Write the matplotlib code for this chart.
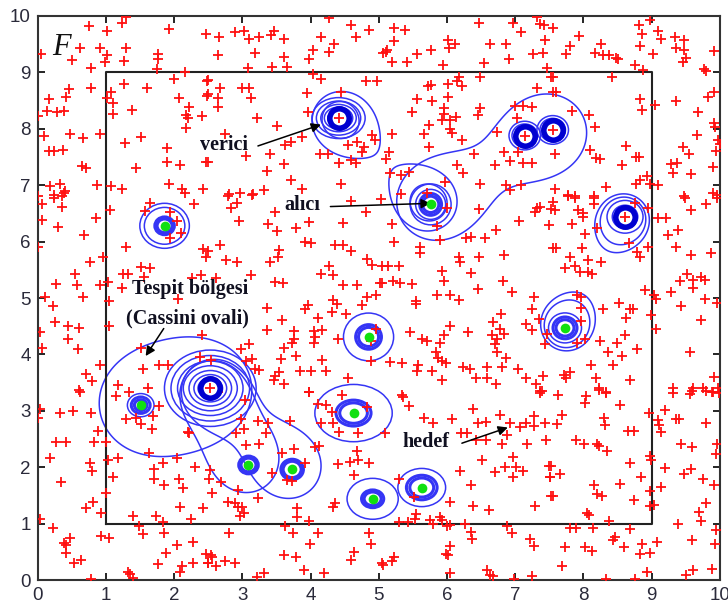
import matplotlib
matplotlib.use('Agg')
import matplotlib.pyplot as plt
from matplotlib.patches import Ellipse
import numpy as np

# red "+" sensor nodes (x, y)
plus_nw = [(1.29,9.99),(0.75,9.82),(1.24,9.87),(1.01,9.73),(1.93,9.77),(2.46,9.68),(0.05,9.33),(0.62,9.43),
    (0.51,9.22),(0.91,9.43),(1.01,9.31),(0.99,9.18),(1.29,9.43),(1.27,9.21),(1.76,9.33),(1.76,9.24),(0.78,9.07),
    (1.75,9.06),(2.16,9.01),(2.0,8.88),(2.48,8.85),(0.78,8.73),(0.46,8.71),(1.27,8.79),(1.08,8.66),(1.6,8.73),
    (0.16,8.53),(0.41,8.57),(1.02,8.54),(0.13,8.32),(0.28,8.3),(0.38,8.32),(1.1,8.46),(1.11,8.27),(0.0,8.22),
    (1.38,8.33),(2.07,8.54),(2.22,8.38),(2.18,8.24),(2.21,8.19),(2.41,8.22),(2.48,8.59),(2.17,8.02),(0.09,7.88),
    (0.48,7.9),(0.66,7.83),(0.91,7.91),(1.28,7.74),(1.52,7.86),(1.9,7.66),(0.17,7.61),(0.24,7.61),(0.37,7.62),
    (0.65,7.34),(0.71,7.3),(1.44,7.3),(1.9,7.41),(2.09,7.36),(2.47,7.41),(0.18,6.99),(0.32,7.03),(0.24,6.83),
    (0.38,6.87),(0.4,6.9),(0.87,7.0),(1.08,6.99),(1.24,6.93),(1.93,7.03),(2.11,6.94),(2.16,6.87),(2.43,6.94),
    (0.01,6.8)]
plus_n = [(2.66,9.62),(2.89,9.71),(3.03,9.74),(3.1,9.59),(3.24,9.62),(3.42,9.66),(3.46,9.74),(3.61,9.59),
    (4.15,9.62),(4.27,9.96),(4.6,9.84),(4.66,9.62),(4.86,9.76),(4.34,9.5),(4.27,9.37),(4.04,9.4),(3.98,9.23),
    (2.65,9.3),(3.19,9.35),(3.61,9.27),(5.06,9.35),(3.09,9.07),(3.44,9.1),(3.65,9.1),(4.04,8.97),(4.15,8.89),
    (2.5,8.87),(4.81,8.84),(4.98,8.85),(2.67,8.73),(3.0,8.73),(3.1,8.73),(2.49,8.61),(2.64,8.55),(3.13,8.54),
    (3.95,8.63),(4.45,8.65),(2.64,8.38),(3.21,8.2),(3.96,8.3),(3.51,8.05),(2.75,7.91),(3.88,7.85),
    (3.62,7.71),(3.72,7.76),(4.55,7.71),(4.68,7.77),(4.9,7.89),(4.95,7.81),(4.79,7.68),(4.75,7.59),(4.14,7.55),
    (4.26,7.56),(4.42,7.4),(4.59,7.45),(4.66,7.4),(3.05,7.52),(3.41,7.56),(2.49,7.41),(3.61,7.37),(3.36,7.26),
    (3.72,7.09),(4.45,7.03),(2.8,6.84),(2.96,6.87),(3.15,6.84),(3.32,6.92),(3.88,6.94),(5.03,6.76)]
plus_ne = [(7.32,9.99),(5.23,9.78),(5.39,9.76),(6.47,9.87),(6.97,9.87),(7.36,9.86),(7.42,9.84),(7.09,9.71),
    (5.23,9.55),(6.02,9.57),(6.03,9.43),(6.12,9.5),(6.63,9.5),(6.86,9.5),(7.43,9.57),(5.1,9.37),(5.12,9.39),
    (5.56,9.33),(5.76,9.39),(7.41,9.35),(7.26,9.33),(5.19,9.18),(5.42,9.18),(5.94,9.13),(6.54,9.16),(6.91,9.24),
    (7.46,9.07),(6.17,8.91),(6.14,8.85),(6.48,8.92),(7.52,8.91),(5.72,8.76),(5.76,8.78),(6.02,8.79),(6.22,8.76),
    (7.32,8.73),(7.56,8.66),(5.56,8.52),(5.78,8.5),(6.02,8.57),(5.49,8.3),(5.95,8.36),(5.95,8.27),(6.13,8.21),
    (5.93,8.15),(6.05,8.15),(6.49,8.36),(6.45,8.24),(6.99,8.41),(7.12,8.41),(7.25,8.38),(7.02,8.19),(5.73,8.07),
    (6.05,7.99),(6.07,7.93),(5.2,7.91),(5.66,7.91),(6.74,7.95),(6.22,7.8),(5.73,7.67),(5.15,7.58),(5.1,7.46),
    (6.4,7.55),(6.84,7.58),(6.93,7.43),(7.04,7.59),(7.12,7.39),(7.24,7.39),(6.7,7.36),(6.15,7.36),(6.23,7.22),
    (5.17,7.21),(5.32,7.18),(5.44,7.23),(5.97,7.06),(6.49,7.03),(6.87,7.0),(6.92,6.91),(7.09,7.0),(5.32,6.84),
    (5.7,6.87)]
plus_far_ne = [(8.98,9.93),(7.55,9.78),(7.94,9.65),(8.81,9.84),(8.86,9.68),(9.09,9.74),(9.14,9.59),(9.34,9.63),
    (9.48,9.57),(7.81,9.46),(7.74,9.33),(8.26,9.5),(8.17,9.35),(8.28,9.3),(8.37,9.3),(8.48,9.25),(8.51,9.24),
    (8.83,9.47),(9.02,9.33),(9.36,9.43),(9.48,9.4),(9.91,9.38),(9.51,9.25),(9.46,9.18),(8.76,9.13),(8.88,9.05),
    (9.77,9.06),(9.79,9.03),(7.55,8.91),(8.42,8.92),(7.6,8.66),(8.83,8.53),(8.86,8.33),(9.05,8.43),(9.36,8.49),
    (9.92,8.66),(9.82,8.57),(9.68,8.29),(7.83,8.31),(8.08,8.24),(8.17,8.03),(9.91,8.1),(9.93,8.04),(9.66,7.89),
    (9.98,7.8),(10.0,7.73),(9.95,7.61),(9.46,7.67),(9.55,7.55),(7.58,7.55),(8.1,7.63),(8.19,7.49),(8.25,7.46),
    (8.62,7.7),(8.77,7.5),(8.81,7.5),(8.56,7.36),(9.29,7.37),(9.37,7.4),(9.32,7.21),(9.58,7.2),(9.9,7.33),
    (8.93,7.17),(8.83,7.09),(8.77,7.03),(8.98,7.03),(9.1,7.0),(8.33,6.97),(7.58,6.94),(7.78,6.83),(7.88,6.8),
    (8.15,6.8),(9.48,6.8),(9.9,6.87),(9.96,6.83)]
plus_w = [(0.07,6.67),(0.24,6.77),(0.35,6.8),(0.36,6.61),(0.07,6.38),(0.3,6.26),(0.86,6.41),(1.06,6.56),
    (0.68,6.11),(0.0,5.9),(0.95,5.73),(0.76,5.63),(1.29,5.91),(1.65,6.68),(1.57,6.54),(1.94,6.52),(2.04,6.37),
    (2.1,6.16),(1.94,6.07),(2.29,6.66),(2.43,5.87),(2.47,5.72),(0.54,5.43),(0.27,5.24),(0.57,5.23),(0.91,5.23),
    (1.03,5.28),(1.25,5.42),(1.33,5.43),(1.51,5.55),(1.65,5.54),(1.56,5.38),(1.23,5.18),(0.11,5.01),(0.66,5.02),
    (1.05,4.95),(0.22,4.85),(2.06,4.98),(2.26,5.35),(2.4,5.4),(0.26,4.57),(0.45,4.51),(0.61,4.47),(1.04,4.51),
    (0.04,4.39),(0.45,4.27),(2.41,4.34),(0.06,4.12),(0.59,4.1),(1.52,4.11),(1.78,3.82),(1.91,3.82),(0.92,3.82),
    (1.54,3.74),(0.71,3.65),(0.79,3.52),(0.61,3.37),(1.17,3.45),(1.61,3.4),(1.34,3.34),(2.38,3.96)]
plus_c = [(2.79,6.8),(2.92,6.68),(2.84,6.59),(3.14,6.83),(3.48,6.53),(2.95,6.36),(3.37,6.32),(3.51,6.19),
    (3.78,6.25),(3.97,6.34),(4.6,6.72),(4.82,6.53),(4.47,6.33),(2.67,5.94),(2.49,5.83),(2.76,5.67),(2.92,5.64),
    (3.54,5.85),(3.52,5.73),(3.41,5.63),(3.92,5.99),(4.0,5.97),(4.36,5.94),(4.47,5.94),(4.6,5.83),(4.83,5.7),
    (4.9,5.59),(5.05,5.56),(4.27,5.57),(4.15,5.42),(4.33,5.4),(3.12,5.4),(2.62,5.36),(3.48,5.28),(3.59,5.26),
    (4.47,5.23),(4.68,5.23),(5.02,5.26),(4.83,5.02),(4.96,5.05),(4.33,4.96),(4.39,4.89),(3.96,4.87),(3.92,4.81),
    (3.36,4.82),(4.32,4.76),(4.75,4.88),(4.52,4.71),(4.11,4.65),(3.58,4.61),(3.36,4.43),(3.76,4.41),(4.05,4.41),
    (4.17,4.43),(4.07,4.31),(3.75,4.28),(3.73,4.2),(4.05,4.2),(2.98,4.1),(3.1,4.18),(3.61,4.12),(3.78,3.98),
    (3.56,3.92),(4.17,3.9),(3.14,3.92),(3.06,3.89),(3.19,3.75),(3.25,3.72),(3.54,3.69),(3.48,3.61),(3.46,3.55),
    (3.61,3.47),(3.85,3.71),(4.0,3.71),(4.22,3.71),(4.55,3.58),(4.88,3.89),(4.96,4.45),(4.89,4.24),(4.4,4.28),
    (3.98,3.34),(2.54,3.9),(2.65,3.34)]
plus_e = [(6.0,6.6),(6.47,6.58),(7.32,6.59),(7.36,6.62),(7.29,6.52),(7.52,6.58),(7.06,6.37),(7.49,6.29),
    (5.19,6.31),(5.86,6.28),(5.22,6.0),(5.9,6.03),(6.28,6.07),(6.35,6.08),(6.56,6.06),(6.72,6.21),(5.6,5.91),
    (5.6,5.8),(6.17,5.73),(6.19,5.64),(6.47,5.73),(6.84,5.77),(7.56,5.89),(5.14,5.56),(5.3,5.56),(5.92,5.48),
    (6.35,5.45),(5.04,5.26),(5.21,5.31),(5.31,5.26),(5.49,5.25),(5.96,5.31),(6.82,5.3),(6.45,5.16),(6.95,5.11),
    (5.85,5.06),(6.04,5.06),(6.17,4.96),(5.55,4.95),(5.55,4.89),(7.27,5.01),(7.25,4.8),(6.79,4.71),(6.68,4.57),
    (7.16,4.54),(7.25,4.44),(7.35,4.62),(7.46,4.37),(7.44,4.18),(6.05,4.51),(6.31,4.4),(6.77,4.45),(6.83,4.37),
    (6.66,4.34),(6.74,4.28),(5.46,4.4),(5.95,4.34),(5.64,4.27),(5.7,4.23),(5.9,4.21),(6.7,4.18),(6.73,4.05),
    (5.84,4.05),(5.87,3.94),(5.93,3.88),(6.86,3.94),(5.17,3.87),(5.34,3.84),(5.58,3.81),(5.56,3.71),(5.78,3.71),
    (5.99,3.84),(6.23,3.78),(6.34,3.74),(6.58,3.78),(6.8,3.78),(7.04,3.75),(5.92,3.55),(6.43,3.58),(6.58,3.58),
    (6.72,3.48),(7.16,3.58),(7.41,3.62),(7.3,3.48),(7.37,3.35),(5.34,3.28)]
plus_far_e = [(7.56,6.71),(7.78,6.8),(7.88,6.77),(8.16,6.78),(8.15,6.66),(7.92,6.56),(8.0,6.5),(8.0,6.44),
    (7.58,6.56),(7.83,6.31),(8.03,6.13),(8.2,6.24),(8.64,6.44),(8.76,6.69),(8.95,6.59),(9.1,6.41),(9.21,6.41),
    (9.49,6.77),(9.96,6.77),(9.8,6.66),(9.57,6.56),(9.38,6.21),(9.24,6.11),(9.36,5.91),(9.57,5.77),(9.87,5.8),
    (8.67,5.97),(8.94,5.91),(8.79,5.81),(8.83,5.72),(7.6,5.89),(7.98,5.89),(7.8,5.72),(8.06,5.67),(8.26,5.64),
    (7.73,5.54),(7.87,5.57),(7.95,5.46),(8.06,5.47),(8.12,5.43),(9.52,5.42),(9.41,5.3),(9.61,5.32),(9.72,5.38),
    (9.78,5.32),(9.61,5.17),(9.29,5.11),(8.9,5.14),(9.03,5.06),(9.07,4.99),(7.91,5.05),(7.96,5.01),(7.97,4.83),
    (8.52,4.92),(9.78,4.98),(9.96,4.92),(9.43,4.86),(8.29,4.8),(8.68,4.8),(8.72,4.81),(8.63,4.64),(7.96,4.59),
    (8.99,4.7),(9.73,4.61),(9.07,4.45),(8.03,4.28),(7.9,4.2),(8.25,4.23),(8.49,4.21),(8.61,4.34),(8.79,4.1),
    (8.36,4.05),(8.56,3.98),(8.44,3.81),(8.11,3.81),(9.56,4.04),(7.71,3.63),(7.81,3.68),(7.75,3.59),(8.18,3.58),
    (8.68,3.54),(8.23,3.41),(8.33,3.34),(9.91,3.6),(9.32,3.41),(9.6,3.41),(9.76,3.41),(9.88,3.34),(9.98,3.41),
    (7.63,3.28)]
plus_sw = [(0.62,3.34),(1.15,3.27),(0.04,3.04),(0.01,2.88),(0.32,2.97),(0.52,3.0),(0.78,2.97),(1.29,2.85),
    (1.44,2.88),(1.51,2.77),(1.69,2.9),(1.68,2.67),(1.78,3.09),(0.88,2.65),(0.27,2.45),(0.42,2.45),(0.83,2.45),
    (1.0,2.45),(2.2,2.63),(2.22,2.6),(1.63,2.25),(0.18,2.16),(0.77,2.08),(0.8,1.93),(1.03,2.13),(1.17,2.16),
    (1.83,2.08),(2.04,2.16),(2.31,2.01),(1.7,1.96),(1.7,1.8),(1.1,1.82),(0.34,1.74),(1.85,1.68),(2.07,1.8),
    (2.13,1.63),(1.0,1.55),(0.81,1.39),(0.71,1.27),(2.09,1.3),(2.43,1.27),(0.93,1.18),(0.04,1.08),(1.39,1.13),
    (1.73,1.13),(1.84,1.03),(2.25,1.08),(0.22,0.92),(1.49,0.96),(1.54,0.82),(1.85,0.83),(0.93,0.78),(1.04,0.75),
    (0.47,0.74),(0.39,0.65),(0.41,0.62),(0.42,0.48),(0.53,0.31),(0.64,0.35),(2.04,0.62),(2.27,0.68),(1.88,0.48),
    (1.77,0.28),(2.11,0.25),(2.27,0.31),(1.33,0.15),(1.36,0.11),(1.4,0.03),(2.08,0.15),(0.78,0.01),(2.47,0.47),
    (2.5,0.3)]
plus_s = [(3.98,3.34),(4.11,3.12),(4.23,3.1),(4.46,3.28),(4.31,2.98),(4.33,2.78),(4.15,2.78),(4.41,2.63),
    (4.83,3.07),(4.7,2.61),(3.04,3.2),(2.98,2.85),(3.23,2.82),(3.38,2.78),(3.7,2.82),(3.03,2.67),(2.91,2.6),
    (3.34,2.6),(3.06,2.39),(3.24,2.41),(3.58,2.25),(3.76,2.32),(4.06,2.35),(4.12,2.38),(3.92,2.08),(4.4,2.06),
    (4.58,2.1),(4.68,2.28),(4.7,2.13),(4.86,2.07),(4.63,1.86),(3.43,1.89),(3.66,1.78),(3.73,1.76),(2.53,1.95),
    (2.51,1.8),(2.68,1.73),(2.93,1.6),(3.23,1.45),(2.79,1.39),(2.89,1.36),(2.99,1.3),(2.93,1.3),(3.03,1.19),
    (2.96,1.13),(2.55,1.55),(3.8,1.27),(3.8,1.12),(3.98,1.05),(4.36,1.37),(4.33,1.3),(3.63,0.96),(3.74,0.83),
    (4.11,0.83),(3.99,0.64),(2.81,0.84),(3.61,0.44),(3.78,0.41),(3.9,0.18),(4.19,0.13),(2.54,0.44),(2.56,0.4),
    (2.5,0.3),(2.62,0.24),(2.74,0.33),(2.89,0.3),(3.22,0.06),(3.32,0.12),(4.85,0.83),(4.89,0.64),(4.63,0.5),
    (4.6,0.35),(5.04,0.3)]
plus_se = [(5.35,3.24),(5.44,3.09),(5.66,2.87),(5.8,2.79),(6.07,2.85),(5.09,2.61),(6.21,2.6),(6.29,2.6),
    (6.38,3.04),(6.46,2.79),(6.57,2.81),(6.43,2.49),(6.57,2.48),(6.77,2.93),(6.93,2.79),(7.07,2.72),(7.16,2.79),
    (7.28,2.91),(7.28,2.73),(7.43,2.79),(7.36,3.32),(7.39,3.35),(6.88,2.57),(6.8,2.41),(7.17,2.41),(7.45,2.48),
    (6.51,2.13),(6.97,2.19),(6.85,2.01),(7.01,2.0),(7.12,1.94),(6.71,1.92),(6.97,1.82),(7.5,2.02),(7.51,1.82),
    (6.19,1.94),(6.35,1.68),(6.38,1.31),(6.61,1.24),(6.05,1.39),(7.53,1.49),(7.29,1.32),(5.29,1.8),(5.51,1.48),
    (5.55,1.17),(5.53,1.09),(5.29,1.02),(5.43,1.02),(5.75,1.06),(5.79,1.0),(5.9,1.11),(5.93,1.06),(6.0,0.96),
    (6.05,0.98),(6.27,0.99),(6.35,0.86),(6.37,0.72),(6.88,0.96),(6.95,0.84),(7.22,0.72),(7.28,0.6),(6.05,0.6),
    (5.98,0.47),(6.02,0.44),(5.23,0.4),(5.19,0.33),(5.06,0.27),(6.05,0.12),(6.58,0.18),(6.63,0.09),(6.68,0.08),
    (6.98,0.01),(7.25,0.08)]
plus_far_se = [(8.23,3.37),(8.04,3.26),(8.33,3.31),(8.03,3.13),(8.54,3.1),(8.96,2.97),(7.68,2.93),(7.62,2.76),
    (8.3,2.88),(8.32,2.74),(8.65,2.65),(8.74,2.65),(9.09,2.84),(9.11,2.74),(9.14,2.62),(9.2,3.01),(9.32,3.31),
    (9.56,3.3),(9.59,3.36),(9.8,3.36),(9.9,3.34),(9.99,3.32),(9.35,2.85),(9.4,2.86),(9.8,2.79),(7.89,2.48),
    (8.01,2.41),(8.2,2.41),(8.23,2.38),(8.35,2.28),(9.43,2.41),(9.59,2.35),(9.96,2.42),(9.95,2.23),(8.97,2.2),
    (8.99,2.13),(8.69,2.08),(9.2,1.99),(9.47,1.88),(9.57,1.96),(9.75,1.8),(9.91,1.68),(7.52,2.02),(7.51,1.82),
    (7.65,1.88),(8.85,1.82),(8.54,1.71),(8.15,1.68),(8.2,1.52),(8.27,1.49),(7.55,1.49),(8.97,1.58),(9.14,1.65),
    (8.74,1.42),(8.97,1.31),(9.03,1.33),(9.8,1.36),(9.7,1.21),(9.72,1.05),(8.05,1.18),(8.08,1.15),(8.38,1.05),
    (9.39,0.99),(9.94,0.89),(9.93,0.64),(7.81,0.92),(7.89,0.93),(8.14,0.92),(8.69,0.9),(8.47,0.77),(8.43,0.71),
    (7.73,0.59),(8.02,0.59),(8.13,0.52),(8.59,0.58),(8.86,0.64),(8.83,0.46),(8.97,0.48),(9.08,0.68),(9.59,0.71),
    (7.68,0.25),(8.93,0.15),(9.51,0.09),(9.61,0.18),(9.88,0.19),(8.33,0.01),(8.75,0.01)]

# transmitters (dark blue centres) and receivers (green)
tx_x = [4.41, 7.14, 7.55, 8.61, 2.53]
tx_y = [8.19, 7.88, 7.98, 6.44, 3.40]
rx_x = [1.86, 1.51, 4.85, 4.63, 3.09, 3.73, 4.91, 5.63, 7.73, 5.76]
rx_y = [6.28, 3.10, 4.31, 2.96, 2.04, 1.96, 1.44, 1.64, 4.47, 6.66]
# rings drawn round each receiver (radius in x units) and their width/height ratio
rx_rings = [[0.1, 0.13, 0.27, 0.33], [0.08, 0.12, 0.17], [0.14, 0.18, 0.35], [0.15, 0.19, 0.42],
            [0.1, 0.13], [0.12, 0.15], [0.1, 0.13, 0.3], [0.14, 0.18, 0.28], [0.12, 0.16, 0.22],
            [0.12, 0.16, 0.22, 0.3]]
rx_aspect = [1.1, 1.15, 1.05, 1.35, 1.1, 1.1, 1.25, 1.25, 1.1, 1.0]
tx_rings = [[0.08, 0.11, 0.16, 0.2, 0.25, 0.3], [0.06, 0.09, 0.13, 0.17, 0.21], [0.06, 0.09, 0.13, 0.17, 0.21],
            [0.06, 0.09, 0.13, 0.17, 0.24], [0.08, 0.11, 0.15, 0.2, 0.26, 0.33, 0.4, 0.48, 0.56]]
tx_aspect = [1.3, 1.1, 1.1, 1.1, 1.2]
# Cassini ovals: (tx index, rx index or None for tx pair, b values)
ovals = [(0, 9, [0.7, 0.91]), (2, 9, [1.12]), (3, 8, [0.78, 0.85]),
         (4, 1, [1.0]), (4, 4, [0.81]), (4, 5, [0.92])]

BLUE = '#3535f5'
YS = 56.4 / 68.2   # y unit / x unit on screen

fig = plt.figure(figsize=(7.28, 6.08), dpi=100)
ax = fig.add_axes([0.0518, 0.046, 0.937, 0.9277])
ax.set_xlim(0, 10); ax.set_ylim(0, 10)

gx, gy = np.meshgrid(np.linspace(0, 10, 800), np.linspace(0, 10, 800))
for ti, ri, bs in ovals:
    d1 = np.hypot(gx - tx_x[ti], (gy - tx_y[ti]) * YS)
    d2 = np.hypot(gx - rx_x[ri], (gy - rx_y[ri]) * YS)
    ax.contour(gx, gy, d1 * d2, levels=sorted(b * b for b in bs), colors=BLUE, linewidths=1.1)

def rings(x, y, radii, asp):
    for k, r in enumerate(radii):
        lw = 2.2 if k < 2 else 1.1
        ax.add_patch(Ellipse((x, y), 2 * r * asp, 2 * r / YS, fill=False, ec=BLUE, lw=lw))

for i in range(len(tx_x)):
    rings(tx_x[i], tx_y[i], tx_rings[i], tx_aspect[i])
    ax.plot(tx_x[i], tx_y[i], 'o', ms=14, mfc='white', mec='#0000d0', mew=4, zorder=4)
for i in range(len(rx_x)):
    rings(rx_x[i], rx_y[i], rx_rings[i], rx_aspect[i])

allp = plus_nw + plus_n + plus_ne + plus_far_ne + plus_w + plus_c + plus_e + plus_far_e + plus_sw + plus_s + plus_se + plus_far_se
px = [p[0] for p in allp]; py = [p[1] for p in allp]
ax.plot(px, py, '+', color='#ff1010', ms=6.5, mew=1.3, zorder=3)
ax.plot(tx_x, tx_y, '+', color='#ff1010', ms=6.5, mew=1.3, zorder=5)
ax.plot(rx_x, rx_y, 'o', color='#10e010', ms=7, mec='none', zorder=5)

# monitored region
ax.plot([1, 9, 9, 1, 1], [1, 1, 9, 9, 1], color='#222222', lw=1.5, zorder=2)

ax.text(0.21, 9.31, 'F', family='Liberation Serif', style='italic', fontsize=22, color='#111111')
tfont = dict(family='Liberation Serif', fontweight='bold', fontsize=14.5, color='#101020')
arr = dict(arrowstyle='-|>', color='black', lw=1.1, mutation_scale=14)
ax.text(3.08, 7.62, 'verici', ha='right', va='baseline', **tfont)
ax.annotate('', xy=(4.19, 8.09), xytext=(3.19, 7.68), arrowprops=arr)
ax.text(4.14, 6.56, 'alıcı', ha='right', va='baseline', **tfont)
ax.annotate('', xy=(5.8, 6.68), xytext=(4.25, 6.62), arrowprops=arr)
ax.text(1.38, 5.07, 'Tespit bölgesi', ha='left', va='baseline', **tfont)
ax.text(1.30, 4.55, '(Cassini ovali)', ha='left', va='baseline', **tfont)
ax.annotate('', xy=(1.56, 3.93), xytext=(1.87, 4.5), arrowprops=arr)
ax.text(5.34, 2.36, 'hedef', ha='left', va='baseline', **tfont)
ax.annotate('', xy=(6.93, 2.72), xytext=(6.18, 2.41), arrowprops=arr)

ax.set_xticks(range(11)); ax.set_yticks(range(11))
ax.tick_params(direction='in', top=True, right=True, length=5, width=1.2, labelsize=13.5,
               labelcolor='#2a2a3a', pad=5)
for lab in ax.get_xticklabels() + ax.get_yticklabels():
    lab.set_family('Liberation Sans')
for s in ax.spines.values():
    s.set_color('#333333'); s.set_linewidth(1.5)

fig.savefig('out.png', dpi=100)
